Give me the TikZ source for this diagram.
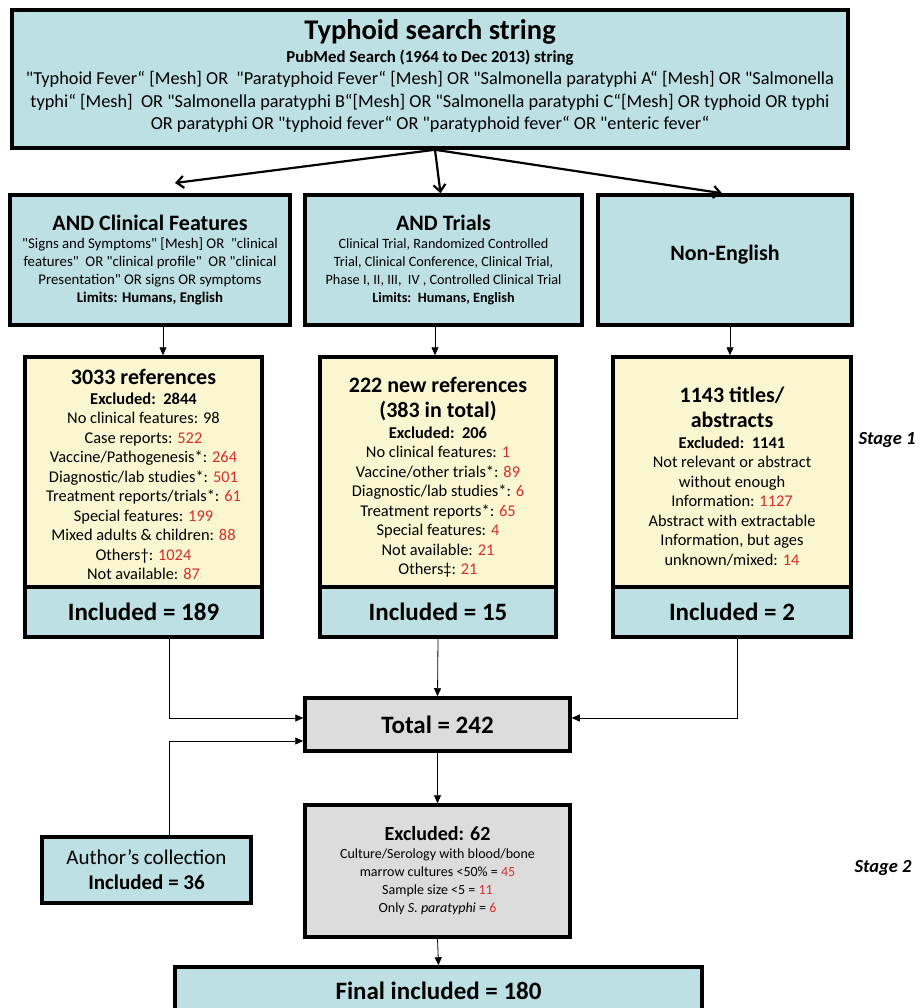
\documentclass[tikz,border=0pt]{standalone}
\usepackage{fontspec}
\setmainfont{Carlito}[Ligatures=TeXOff]
\usetikzlibrary{arrows.meta}
\definecolor{boxblue}{RGB}{189,224,229}
\definecolor{boxyellow}{RGB}{250,247,208}
\definecolor{boxgrey}{RGB}{220,220,220}
\definecolor{numred}{RGB}{214,46,46}
\newcommand{\redn}[1]{\textcolor{numred}{#1}}
\begin{document}
\begin{tikzpicture}[x=1pt,y=-1pt,
    box/.style={draw,line width=3.5pt,align=center,inner sep=0pt},
    bluebox/.style={box,fill=boxblue},
    yellowbox/.style={box,fill=boxyellow,font=\fontsize{16.4}{19.5}\selectfont},
    greybox/.style={box,fill=boxgrey},
    fork/.style={line width=2.2pt,-{Straight Barb[length=7pt,width=12pt,line width=2.2pt]}},
    flow/.style={line width=0.8pt,-{Triangle[length=8pt,width=7pt]}},
    stage/.style={font=\fontsize{18.5}{22}\selectfont\bfseries\itshape}]
        \clip (0,0) rectangle (920,1008);

        \node[bluebox,minimum width=836pt,minimum height=138pt,font=\fontsize{18.3}{22.5}\selectfont] (search) at (430,79)
            {{\fontsize{28.5}{29}\selectfont\bfseries Typhoid search string}\\
             {\fontsize{16.8}{22}\selectfont\bfseries PubMed Search (1964 to Dec 2013) string}\\
             "Typhoid Fever“ [Mesh] OR\ \ "Paratyphoid Fever“ [Mesh] OR "Salmonella paratyphi A“ [Mesh] OR "Salmonella\\
             typhi“ [Mesh]\ \ OR "Salmonella paratyphi B“[Mesh] OR "Salmonella paratyphi C“[Mesh] OR typhoid OR typhi\\
             OR paratyphi OR "typhoid fever“ OR "paratyphoid fever“ OR "enteric fever“\\[-14pt]};

        \node[bluebox,minimum width=280pt,minimum height=130pt,font=\fontsize{14.8}{18}\selectfont] (clin) at (150,260)
            {{\fontsize{22}{22}\selectfont\bfseries AND Clinical Features}\\
             "Signs and Symptoms" [Mesh] OR\ \ "clinical\\
             features"\ \ OR "clinical profile"\ \ OR "clinical\\
             Presentation" OR signs OR symptoms\\
             \textbf{Limits: Humans, English}};
        \node[bluebox,minimum width=277pt,minimum height=130pt,font=\fontsize{14.2}{18}\selectfont] (trials) at (443.5,260)
            {{\fontsize{22}{22}\selectfont\bfseries AND Trials}\\
             Clinical Trial, Randomized Controlled\\
             Trial, Clinical Conference, Clinical Trial,\\
             Phase I, II, III,\ \ IV , Controlled Clinical Trial\\
             \textbf{Limits:\ \ Humans, English}};
        \node[bluebox,minimum width=254pt,minimum height=130pt] (noneng) at (725,260)
            {\raisebox{15pt}{\fontsize{22}{24}\selectfont\bfseries Non-English}};
        \coordinate (cliniend) at (175,183);

        \draw[fork] ([xshift=5pt]search.south) -- (cliniend);
        \draw[fork] ([xshift=5pt]search.south) -- ([xshift=-3pt]trials.north);
        \draw[fork] ([xshift=5pt]search.south) -- ([xshift=-3pt]noneng.north);

        \node[yellowbox,minimum width=237pt,minimum height=230pt] (refA) at (143.5,472)
            {{\fontsize{22}{23}\selectfont\bfseries\rule{0pt}{21pt}3033 references}\\
             {\fontsize{16.5}{19}\selectfont\bfseries Excluded:\ \ 2844}\\
             No clinical features: 98\\
             Case reports: \redn{522}\\
             Vaccine/Pathogenesis*: \redn{264}\\
             Diagnostic/lab studies*: \redn{501}\\
             Treatment reports/trials*: \redn{61}\\
             Special features: \redn{199}\\
             Mixed adults \& children: \redn{88}\\
             Others†: \redn{1024}\\
             Not available: \redn{87}};
        \node[yellowbox,minimum width=236pt,minimum height=230pt] (refB) at (438,472)
            {{\fontsize{22}{26}\selectfont\bfseries\rule{0pt}{26pt}222 new references}\\[6pt]
             {\fontsize{22}{23}\selectfont\bfseries (383 in total)}\\[1pt]
             {\fontsize{16.5}{19}\selectfont\bfseries Excluded:\ \ 206}\\
             No clinical features: \redn{1}\\
             Vaccine/other trials*: \redn{89}\\
             Diagnostic/lab studies*: \redn{6}\\
             Treatment reports*: \redn{65}\\
             Special features: \redn{4}\\
             Not available: \redn{21}\\
             Others‡: \redn{21}};
        \node[yellowbox,minimum width=238pt,minimum height=230pt] (refC) at (732,472)
            {{\fontsize{22}{26}\selectfont\bfseries\rule{0pt}{24pt}1143 titles/}\\[6pt]
             {\fontsize{22}{23}\selectfont\bfseries abstracts}\\[1pt]
             {\fontsize{16.5}{19}\selectfont\bfseries Excluded:\ \ 1141}\\
             Not relevant or abstract\\
             without enough\\
             Information: \redn{1127}\\
             Abstract with extractable\\
             Information, but ages\\
             unknown/mixed: \redn{14}};

        \node[bluebox,minimum width=237pt,minimum height=50pt,font=\fontsize{25}{28}\selectfont\bfseries] (incA) at (143.5,612) {Included = 189};
        \node[bluebox,minimum width=236pt,minimum height=50pt,font=\fontsize{25}{28}\selectfont\bfseries] (incB) at (438,612) {Included = 15};
        \node[bluebox,minimum width=238pt,minimum height=50pt,font=\fontsize{25}{28}\selectfont\bfseries] (incC) at (732,612) {Included = 2};

        \draw[flow] ([xshift=13pt]clin.south) -- ([xshift=13pt]clin.south |- refA.north);
        \draw[flow] ([xshift=-8.5pt]trials.south) -- ([xshift=-8.5pt]trials.south |- refB.north);
        \draw[flow] ([xshift=5pt]noneng.south) -- ([xshift=5pt]noneng.south |- refC.north);

        \node[greybox,minimum width=265pt,minimum height=53pt,font=\fontsize{25}{28}\selectfont\bfseries] (total) at (437.5,724.5) {Total = 242};
        \node[bluebox,minimum width=209pt,minimum height=66pt,font=\fontsize{21}{25}\selectfont] (author) at (146.5,870)
            {Author’s collection\\ \textbf{Included = 36}};
        \node[greybox,minimum width=265pt,minimum height=132pt,font=\fontsize{14}{18}\selectfont] (excl) at (437.5,871)
            {{\fontsize{20}{22}\selectfont\bfseries Excluded: 62}\\
             Culture/Serology with blood/bone\\
             marrow cultures <50\% = \redn{45}\\
             Sample size <5 = \redn{11}\\
             Only \textit{S. paratyphi} = \redn{6}};
        \node[bluebox,minimum width=527pt,minimum height=56pt,font=\fontsize{25}{28}\selectfont\bfseries] (final) at (438.5,995)
            {\raisebox{8pt}{Final included = 180}};

        \draw[flow] ([xshift=25.5pt]incA.south) |- ([yshift=6.5pt]total.west);
        \draw[flow] (incB.south) -- (total.north);
        \draw[flow] ([xshift=5pt]incC.south) |- ([yshift=6.5pt]total.east);
        \draw[flow] ([xshift=22.5pt]author.north) |- ([yshift=-16.5pt]total.west);
        \draw[flow] (total.south) -- (excl.north);
        \draw[flow] (excl.south) -- (final.north);

        \node[stage] (stage1) at (887,440) {Stage 1};
        \node[stage] (stage2) at (883,868) {Stage 2};
    \end{tikzpicture}
\end{document}
